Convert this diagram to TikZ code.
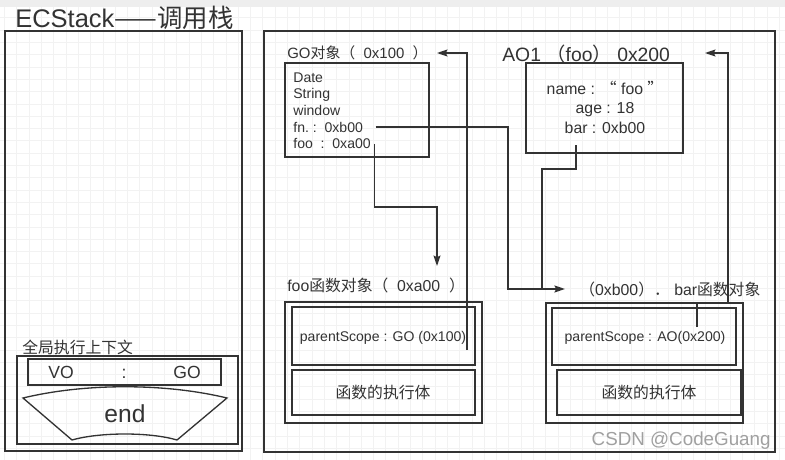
\documentclass[tikz,border=0pt]{standalone}
\usepackage{fontspec}
\setmainfont{Liberation Sans}
\newfontfamily\cjk{Noto Sans CJK SC}
\newcommand{\zh}[1]{{\cjk #1}}
\newcommand{\fsz}[1]{\fontsize{#1}{#1}\selectfont}
\usetikzlibrary{arrows.meta, positioning, calc}
\definecolor{LineGray}{RGB}{51,51,51}
\definecolor{GridGray}{RGB}{242,242,242}
\definecolor{StripGray}{RGB}{238,238,238}
\definecolor{MarkGray}{RGB}{160,160,160}

\tikzset{
  box/.style={draw=LineGray, line width=0.75pt, inner sep=0pt},
  wire/.style={draw=LineGray, line width=0.75pt},
  link/.style={wire, -{Stealth[length=6pt,width=4pt,inset=1pt]}},
  txt/.style={inner sep=0pt, anchor=base, text=LineGray},
}

\begin{document}
\begin{tikzpicture}[x=0.02cm, y=-0.02cm]
\useasboundingbox (0,0) rectangle (785,460);
\fill[white] (0,0) rectangle (785,460);
\foreach \gx in {4.5,16.8,...,785} \draw[GridGray, line width=0.4pt] (\gx,0) -- (\gx,460);
\foreach \gy in {5.5,17.8,...,460} \draw[GridGray, line width=0.4pt] (0,\gy) -- (785,\gy);
\fill[StripGray] (0,0) rectangle (785,7);

% call stack
\node[box, minimum width=4.74cm, minimum height=8.4cm] (stack) at (123.5,241) {};
\node[txt, anchor=base west, font=\fsz{14.5}] (stacktitle) at (15,27) {ECStack\zh{——调用栈}};
\node[box, minimum width=4.42cm, minimum height=1.76cm] (gec) at (127.5,400) {};
\node[txt, anchor=base west, font=\fsz{9}] (gectitle) at (22,353) {\zh{全局执行上下文}};
\node[box, minimum width=3.86cm, minimum height=0.52cm] (vobox) at (124.5,372) {};
\node[txt, font=\fsz{10}] (vo) at (61,378) {VO};
\node[txt, font=\fsz{10}] (colon) at (124,378) {:};
\node[txt, font=\fsz{10}] (vogo) at (187,378) {GO};
\draw[wire] (23,398) .. controls (85,383) and (165,383) .. (227,398) -- (177,440)
  .. controls (150,432) and (100,432) .. (72,440) -- cycle;
\node[txt, font=\fsz{14}] (endtxt) at (125,422) {end};

% heap
\node[box, minimum width=10.22cm, minimum height=8.42cm] (heap) at (519.5,241.5) {};

% GO
\node[txt, anchor=base west, font=\fsz{8.5}] (golbl) at (287,58) {GO\zh{对象（}\ \ 0x100\ \ \zh{）}};
\node[box, minimum width=2.88cm, minimum height=1.88cm] (gobox) at (357,110) {};
\foreach \n/\t [count=\i] in {date/Date, str/String, win/window, fn/{fn.\ :\ \ 0xb00}, foo/{foo\ \ :\ \ 0xa00}}
  \node[txt, anchor=base west, font=\fsz{8}] (go\n) at (293,65.3+16.7*\i) {\t};

% AO1
\node[txt, anchor=base west, font=\fsz{11}] (aolbl) at (502,61) {AO1 \zh{（}foo\zh{）} 0x200};
\node[box, minimum width=3.14cm, minimum height=1.8cm] (aobox) at (604.5,108) {};
\node[txt, font=\fsz{9}] (aoname) at (605,94) {name : \zh{“} foo \zh{”}};
\node[txt, font=\fsz{9}] (aoage) at (605,113) {age : 18};
\node[txt, font=\fsz{9}] (aobar) at (605,133) {bar : 0xb00};

% foo function object
\node[txt, anchor=base west, font=\fsz{9}] (foolbl) at (287,291) {foo\zh{函数对象（}\ \ 0xa00\ \ \zh{）}};
\node[box, minimum width=3.94cm, minimum height=2.42cm] (fooobj) at (383.5,362.5) {};
\node[box, minimum width=3.66cm, minimum height=1.16cm] (fooscope) at (383.5,336) {};
\node[txt, font=\fsz{8}] (fooscopetxt) at (383,341) {parentScope : GO (0x100)};
\node[box, minimum width=3.66cm, minimum height=0.9cm] (foobody) at (383.5,392.5) {};
\node[txt, font=\fsz{9}] (foobodytxt) at (383,398) {\zh{函数的执行体}};

% bar function object
\node[txt, anchor=base west, font=\fsz{9}] (barlbl) at (579,295) {\zh{（}0xb00\zh{）．}\ bar\zh{函数对象}};
\node[box, minimum width=3.94cm, minimum height=2.4cm] (barobj) at (644.5,363) {};
\node[box, minimum width=3.68cm, minimum height=1.14cm] (barscope) at (644,336.5) {};
\node[txt, font=\fsz{8}] (barscopetxt) at (645,341) {parentScope : AO(0x200)};
\node[box, minimum width=3.68cm, minimum height=0.9cm] (barbody) at (649,392.5) {};
\node[txt, font=\fsz{9}] (barbodytxt) at (649,398) {\zh{函数的执行体}};

\node[txt, anchor=base east, font=\fsz{10.7}, text=MarkGray] (mark) at (771,445) {CSDN @CodeGuang};

% pointers
\coordinate (goout) at (467,350);
\coordinate (goin) at (437,53);
\coordinate (aoout) at (697,327);
\coordinate (aoin) at (705,53);
\coordinate (fooin) at (437,266);
\coordinate (barout) at (576,145);
\coordinate (fnbend) at (508,0);
\coordinate (join) at (542,0);
\draw[link, shorten <=7pt, shorten >=8pt] (gofn.east) -| (fnbend |- barlbl.west) -- (barlbl.west);
\draw[wire] (barout) |- (542,169) -- (join |- barlbl.west);
\draw[link] ([xshift=2pt]gofoo.east) |- (437,207) -- (fooin);
\draw[link] (goout) |- (goin);
\draw[link] (aoout) |- (728,303) |- (aoin);
\end{tikzpicture}
\end{document}
